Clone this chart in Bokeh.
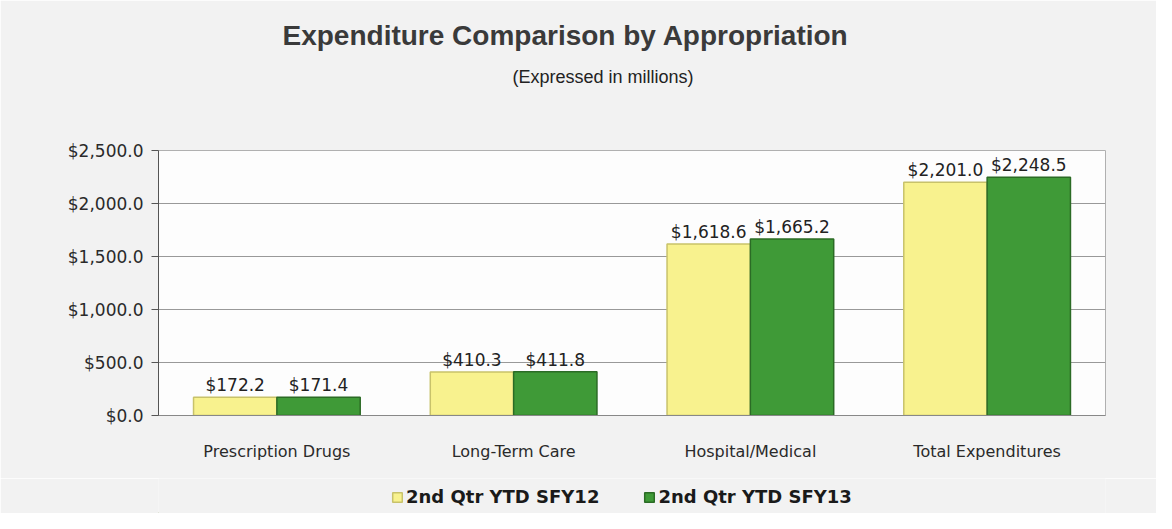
from bokeh.plotting import figure
from bokeh.models import (ColumnDataSource, FactorRange, NumeralTickFormatter, LabelSet,
                          Legend, LegendItem, Title)
from bokeh.layouts import column
from bokeh.core.properties import value
from bokeh.transform import dodge
from bokeh.embed import file_html
from bokeh.resources import INLINE

categories = ["Prescription Drugs", "Long-Term Care", "Hospital/Medical", "Total Expenditures"]
sfy12 = [172.2, 410.3, 1618.6, 2201.0]
sfy13 = [171.4, 411.8, 1665.2, 2248.5]
series_names = ["2nd Qtr YTD SFY12", "2nd Qtr YTD SFY13"]
y_ticks = [0, 500, 1000, 1500, 2000, 2500]
title_text = "Expenditure Comparison by Appropriation"
subtitle_text = "(Expressed in millions)"

colors = ["#F8F28E", "#3F9A37"]
edges = ["#C8C26A", "#2B6B25"]
BG = "#f2f2f2"

src = ColumnDataSource(dict(
    cat=categories,
    v12=sfy12,
    v13=sfy13,
    l12=[f"${v:,.1f}" for v in sfy12],
    l13=[f"${v:,.1f}" for v in sfy13],
))

p = figure(width=1156, height=478, frame_width=947, frame_height=265,
           x_range=FactorRange(factors=categories),
           y_range=(0, 2500), output_backend="svg", toolbar_location=None,
           min_border_left=158, min_border_right=51, min_border_top=150,
           min_border_bottom=63)

p.background_fill_color = "#fdfdfd"
p.border_fill_color = BG
p.outline_line_color = "#b0b0b0"

off = 0.176
w = 0.352
p.vbar(x=dodge("cat", -off, range=p.x_range), top="v12", width=w, source=src,
       fill_color=colors[0], line_color=edges[0], line_width=1.5)
p.vbar(x=dodge("cat", off, range=p.x_range), top="v13", width=w, source=src,
       fill_color=colors[1], line_color=edges[1], line_width=1.5)

lab_kw = dict(text_align="center", text_baseline="bottom", y_offset=2,
              text_font=value("DejaVu Sans"), text_font_size="17px", text_color="#222222")
p.add_layout(LabelSet(x=dodge("cat", -off, range=p.x_range), y="v12", text="l12", source=src, **lab_kw))
p.add_layout(LabelSet(x=dodge("cat", off, range=p.x_range), y="v13", text="l13", source=src, **lab_kw))

# axes
p.yaxis.ticker = y_ticks
p.yaxis.formatter = NumeralTickFormatter(format="$0,0.0")
p.yaxis.major_label_text_font = "DejaVu Sans"
p.yaxis.major_label_text_font_size = "17px"
p.yaxis.major_label_text_color = "#2a2a2a"
p.yaxis.major_label_standoff = 8
p.yaxis.major_tick_out = 7
p.yaxis.major_tick_in = 0
p.yaxis.minor_tick_line_color = None
p.yaxis.axis_line_color = "#555555"
p.yaxis.major_tick_line_color = "#555555"

p.xaxis.major_label_text_font = "DejaVu Sans"
p.xaxis.major_label_text_font_size = "16px"
p.xaxis.major_label_text_color = "#2a2a2a"
p.xaxis.major_label_standoff = 20
p.xaxis.major_tick_line_color = None
p.xaxis.axis_line_color = "#888888"

p.xgrid.grid_line_color = None
p.ygrid.grid_line_color = "#999999"
p.ygrid.grid_line_width = 1

# title panels (closest to frame first)
p.add_layout(Title(text=" ", text_font_size="10px", standoff=51), "above")
p.add_layout(Title(text=subtitle_text, align="left", offset=354,
                   text_font="Liberation Sans", text_font_size="18px",
                   text_font_style="normal", text_color="#222222", standoff=0), "above")
p.add_layout(Title(text=title_text, align="left", offset=124,
                   text_font="Liberation Sans", text_font_size="28px",
                   text_font_style="bold", text_color="#3a3a3a", standoff=28), "above")

# legend strip below the chart (swatch renderers kept outside the visible range)
q = figure(width=1156, height=35, x_range=(0, 1), y_range=(0, 1),
           output_backend="svg", toolbar_location=None,
           min_border_left=0, min_border_right=0, min_border_top=0, min_border_bottom=0)
q.axis.visible = False
q.grid.grid_line_color = None
q.outline_line_color = None
q.background_fill_color = BG
q.border_fill_color = BG
swatch = ColumnDataSource(dict(x=[-5.0], top=[-5.0]))
k12 = q.vbar(x="x", top="top", width=0.1, source=swatch,
             fill_color=colors[0], line_color=edges[0], line_width=1.5)
k13 = q.vbar(x="x", top="top", width=0.1, source=swatch,
             fill_color=colors[1], line_color=edges[1], line_width=1.5)
legend = Legend(items=[LegendItem(label=series_names[0], renderers=[k12]),
                       LegendItem(label=series_names[1], renderers=[k13])],
                orientation="horizontal", location=(233, 6),
                label_text_font="DejaVu Sans", label_text_font_style="bold",
                label_text_font_size="18px", label_text_color="#1a1a1a",
                glyph_width=12, glyph_height=12, label_standoff=3, spacing=44,
                border_line_color=None, background_fill_alpha=0, margin=0, padding=2)
q.add_layout(legend, "center")

open("out.html", "w").write(file_html(column(p, q, spacing=0), INLINE))
